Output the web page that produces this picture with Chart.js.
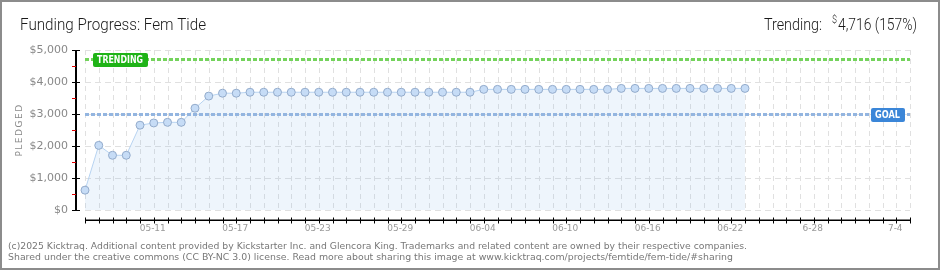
<!DOCTYPE html>
<html>
<head>
<meta charset="utf-8">
<script src="https://cdn.jsdelivr.net/npm/chart.js@4/dist/chart.umd.min.js"></script>
<style>
  html, body { margin: 0; padding: 0; background: #fff; }
  #wrap { position: relative; width: 940px; height: 270px; }
  #wrap:after { content: ''; position: absolute; inset: 0; border: 2px solid #8c8c8c; pointer-events: none; }
  canvas { display: block; }
</style>
</head>
<body>
<div id="wrap"><canvas id="chart" width="940" height="270"></canvas></div>
<script>
// one category per day, May 6 .. July 5
const days = [
  '05-06','05-07','05-08','05-09','05-10','05-11','05-12','05-13','05-14','05-15',
  '05-16','05-17','05-18','05-19','05-20','05-21','05-22','05-23','05-24','05-25',
  '05-26','05-27','05-28','05-29','05-30','05-31','06-01','06-02','06-03','06-04',
  '06-05','06-06','06-07','06-08','06-09','06-10','06-11','06-12','06-13','06-14',
  '06-15','06-16','06-17','06-18','06-19','06-20','06-21','06-22','06-23','06-24',
  '06-25','06-26','06-27','06-28','06-29','06-30','07-01','07-02','07-03','07-04',
  '07-05'
];

// pledged total per day
const pledged = [
  620, 2020, 1710, 1710, 2650, 2720, 2740, 2740, 3180, 3560,
  3650, 3650, 3680, 3680, 3680, 3680, 3680, 3680, 3680, 3680,
  3680, 3680, 3680, 3680, 3680, 3680, 3680, 3680, 3680, 3770,
  3770, 3770, 3770, 3770, 3770, 3770, 3770, 3770, 3770, 3800,
  3800, 3800, 3800, 3800, 3800, 3800, 3800, 3800, 3800
];

const labelDays = ['05-11','05-17','05-23','05-29','06-04','06-10','06-16','06-22','06-28','07-04'];
const labelText = ['05-11','05-17','05-23','05-29','06-04','06-10','06-16','06-22','6-28','7-4'];

const yTicks = [0, 1000, 2000, 3000, 4000, 5000];
const yTickText = ['$0', '$1,000', '$2,000', '$3,000', '$4,000', '$5,000'];
const yMinor = [500, 1500, 2500, 3500, 4500];

const goal = 3000;
const trending = 4716;

function seg(ctx, x1, y1, x2, y2) {
  ctx.beginPath(); ctx.moveTo(x1, y1); ctx.lineTo(x2, y2); ctx.stroke();
}

// draw text squeezed horizontally so it spans exactly `w` pixels
function fitText(ctx, text, x, y, w) {
  const m = ctx.measureText(text).width;
  ctx.save();
  ctx.translate(x, y);
  ctx.scale(w / m, 1);
  ctx.textAlign = 'left';
  ctx.fillText(text, 0, 0);
  ctx.restore();
}

function tag(ctx, x, yc, w, text, color) {
  ctx.fillStyle = color;
  ctx.beginPath();
  ctx.roundRect(x, Math.round(yc) - 7, w, 14, 2);
  ctx.fill();
  ctx.fillStyle = '#fff';
  ctx.font = 'bold 10px "DejaVu Sans"';
  ctx.textBaseline = 'middle';
  fitText(ctx, text, x + 4, Math.round(yc) + 0.5, w - 9);
}

const decor = {
  id: 'decor',
  beforeDatasetsDraw(chart) {
    const { ctx, chartArea: a, scales: { x, y } } = chart;
    ctx.save();
    ctx.strokeStyle = '#e0e0e0';
    ctx.lineWidth = 1;
    // vertical dashed grid, one per day
    ctx.setLineDash([5, 4]);
    days.forEach((d, i) => {
      const px = Math.round(x.getPixelForValue(i)) + 0.5;
      seg(ctx, px, a.top, px, a.bottom);
    });
    // horizontal dashed grid
    ctx.setLineDash([6, 4]);
    yTicks.forEach(v => {
      const py = Math.round(y.getPixelForValue(v)) + 0.5;
      seg(ctx, a.left, py, a.right, py);
    });
    ctx.restore();
  },
  afterDatasetsDraw(chart) {
    const { ctx, chartArea: a, scales: { y } } = chart;
    ctx.save();
    ctx.lineWidth = 3;
    ctx.setLineDash([4, 2]);
    const gy = Math.round(y.getPixelForValue(goal)) + 0.5;
    ctx.strokeStyle = '#93b5e0';
    seg(ctx, a.left, gy, a.right, gy);
    const ty = Math.round(y.getPixelForValue(trending)) + 0.5;
    ctx.strokeStyle = '#74d35c';
    seg(ctx, a.left, ty, a.right, ty);
    ctx.setLineDash([]);
    tag(ctx, a.left + 8, ty, 55, 'TRENDING', '#1fb317');
    tag(ctx, a.right - 39, gy, 34, 'GOAL', '#3b86d8');
    ctx.restore();
  },
  afterDraw(chart) {
    const { ctx, chartArea: a, scales: { x, y } } = chart;
    ctx.save();
    // y axis
    const ax = a.left - 9;
    ctx.strokeStyle = '#000';
    ctx.lineWidth = 2;
    seg(ctx, ax, a.top, ax, a.bottom + 1);
    yTicks.forEach(v => {
      const py = Math.round(y.getPixelForValue(v)) + 0.5;
      ctx.lineWidth = 1;
      ctx.strokeStyle = '#000';
      seg(ctx, ax - 4, py, ax + 4, py);
    });
    yMinor.forEach(v => {
      const py = Math.round(y.getPixelForValue(v)) + 0.5;
      ctx.strokeStyle = '#e00000';
      seg(ctx, ax - 4, py, ax, py);
    });
    ctx.fillStyle = '#888';
    ctx.font = '11px "DejaVu Sans"';
    ctx.textBaseline = 'middle';
    yTicks.forEach((v, i) => {
      const t = yTickText[i];
      const w = ctx.measureText(t).width;
      fitText(ctx, t, 68 - w, Math.round(y.getPixelForValue(v)), w);
    });

    // x axis
    const ay = a.bottom + 10.5;
    ctx.strokeStyle = '#000';
    ctx.lineWidth = 1;
    seg(ctx, a.left, ay, a.right, ay);
    seg(ctx, a.left, ay - 0.5, a.right, ay - 0.5);
    days.forEach((d, i) => {
      const px = Math.round(x.getPixelForValue(i)) + 0.5;
      seg(ctx, px, ay - 3, px, ay + 3);
    });
    ctx.fillStyle = '#999';
    ctx.font = '9px "DejaVu Sans"';
    ctx.textAlign = 'center';
    labelDays.forEach((d, i) => {
      ctx.fillText(labelText[i], x.getPixelForValue(days.indexOf(d)) - 1, ay + 8);
    });

    // axis title
    ctx.save();
    ctx.translate(20, 130);
    ctx.rotate(-Math.PI / 2);
    ctx.font = '9px "DejaVu Sans"';
    ctx.letterSpacing = '1.5px';
    ctx.fillStyle = '#8a8a8a';
    ctx.fillText('PLEDGED', 0, 0);
    ctx.restore();

    // title + trending summary
    ctx.fillStyle = '#1a1a1a';
    ctx.font = '300 17px Roboto';
    ctx.textBaseline = 'alphabetic';
    fitText(ctx, 'Funding Progress: Fem Tide', 20, 30, 186);
    fitText(ctx, '4,716 (157%)', 838, 30, 79);
    ctx.font = '300 11px Roboto';
    fitText(ctx, '$', 832, 23, 5);
    ctx.font = '300 17px Roboto';
    fitText(ctx, 'Trending:', 764, 30, 58);

    // footer
    ctx.fillStyle = '#777';
    ctx.font = '9px "DejaVu Sans"';
    fitText(ctx, '(c)2025 Kicktraq. Additional content provided by Kickstarter Inc. and Glencora King. Trademarks and related content are owned by their respective companies.', 8, 249, 739);
    fitText(ctx, 'Shared under the creative commons (CC BY-NC 3.0) license. Read more about sharing this image at www.kicktraq.com/projects/femtide/fem-tide/#sharing', 8, 260, 725);
    ctx.restore();
  }
};

new Chart(document.getElementById('chart'), {
  type: 'line',
  data: {
    labels: days,
    datasets: [{
      data: pledged,
      borderColor: '#b7d3f1',
      borderWidth: 1,
      backgroundColor: 'rgba(120,175,235,0.13)',
      fill: 'origin',
      tension: 0,
      pointRadius: 4,
      pointBorderWidth: 1,
      pointBackgroundColor: '#c6dcf6',
      pointBorderColor: '#93abcb'
    }]
  },
  options: {
    responsive: false,
    animation: false,
    devicePixelRatio: 1,
    layout: { padding: { left: 85, right: 30, top: 50, bottom: 60 } },
    plugins: { legend: { display: false }, tooltip: { enabled: false } },
    scales: {
      x: { display: false, offset: false },
      y: { display: false, min: 0, max: 5000 }
    }
  },
  plugins: [decor]
});
</script>
</body>
</html>
